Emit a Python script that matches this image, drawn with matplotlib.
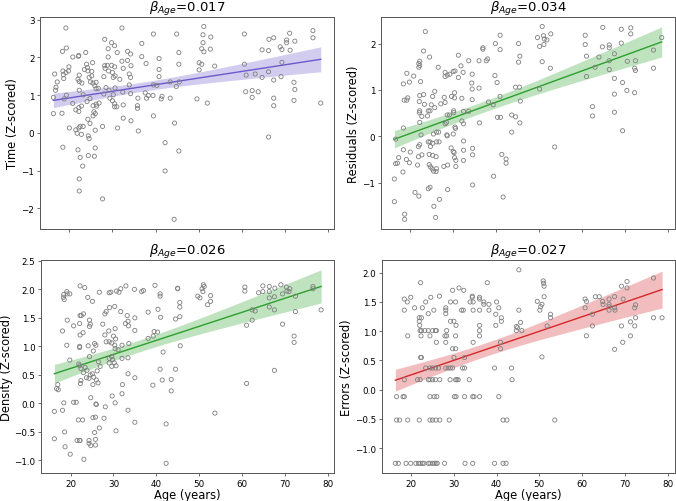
import matplotlib
matplotlib.use("Agg")
import matplotlib.pyplot as plt
import numpy as np

# ---- data (age in years, z-scored value) ----
time_age = [19.2, 32.2, 39.5, 44.9, 28.2, 29.8, 30.5, 36.8, 19.3, 18.4, 29.0, 23.8, 31.1, 33.5, 34.2, 45.4,
            20.8, 22.2, 22.1, 29.0, 36.8, 40.8, 33.5, 32.2, 24.0, 25.4, 37.8, 45.4, 28.2, 28.8, 29.8, 30.5,
            19.9, 23.5, 24.2, 28.3, 32.5, 34.3, 40.8, 18.5, 19.2, 19.8, 24.3, 25.2, 29.1, 30.0, 30.6, 33.9,
            16.6, 18.6, 22.3, 18.7, 22.0, 25.2, 24.6, 28.0, 30.2, 31.7, 34.2, 40.8, 17.2, 22.3, 22.9, 24.9,
            25.5, 26.2, 25.9, 33.9, 43.4, 45.5, 16.9, 28.5, 30.6, 39.5, 40.3, 44.8, 22.3, 26.2, 26.7, 29.2,
            16.8, 28.0, 30.2, 32.4, 34.2, 37.6, 19.3, 23.2, 38.3, 39.4, 41.5, 16.3, 18.8, 24.8, 29.4, 30.0,
            35.9, 37.9, 41.3, 43.4, 24.1, 20.8, 26.2, 26.9, 30.5, 32.5, 35.8, 22.8, 25.5, 26.3, 30.5, 31.0,
            35.8, 22.2, 21.5, 22.2, 25.7, 16.3, 18.3, 26.0, 25.5, 39.5, 32.5, 24.3, 34.3, 24.8, 44.4, 27.7,
            20.0, 22.5, 23.2, 31.2, 21.5, 22.2, 26.0, 36.0, 21.8, 22.8, 24.4, 24.6, 42.2, 18.5, 26.0, 22.0,
            45.4, 24.4, 25.8, 22.5, 23.1, 42.2, 22.3, 22.3, 27.7, 44.3,
            51.2, 51.0, 52.8, 51.0, 50.7, 51.2, 52.7, 50.1, 50.7, 50.1, 53.7, 49.6, 52.0, 60.6, 66.3, 67.4,
            71.1, 70.4, 70.4, 72.3, 76.5, 76.5, 64.7, 66.2, 68.9, 69.3, 71.2, 60.6, 69.3, 61.0, 63.1, 64.7,
            66.2, 67.4, 69.1, 72.1, 72.3, 60.9, 62.4, 63.8, 62.4, 67.4, 67.4, 72.1, 78.3, 66.2]
time_val = [2.78, 2.78, 2.62, 2.62, 2.48, 2.39, 2.31, 2.37, 2.25, 2.16, 2.23, 2.13, 2.13, 2.16, 2.09, 2.13,
            2.01, 2.05, 2.03, 2.01, 2.02, 1.97, 1.92, 1.90, 1.82, 1.86, 1.84, 1.82, 1.78, 1.79, 1.79, 1.75,
            1.75, 1.68, 1.73, 1.71, 1.71, 1.78, 1.68, 1.64, 1.60, 1.64, 1.64, 1.63, 1.64, 1.60, 1.51, 1.56,
            1.56, 1.54, 1.53, 1.44, 1.42, 1.51, 1.47, 1.49, 1.47, 1.42, 1.47, 1.49, 1.35, 1.36, 1.32, 1.35,
            1.32, 1.34, 1.25, 1.27, 1.35, 1.35, 1.21, 1.20, 1.19, 1.27, 1.26, 1.23, 1.13, 1.17, 1.18, 1.13,
            1.13, 1.03, 1.01, 1.08, 1.04, 1.06, 1.00, 1.01, 0.99, 0.99, 0.97, 0.94, 0.90, 0.91, 0.92, 0.85,
            0.92, 0.92, 0.90, 0.92, 0.83, 0.78, 0.76, 0.79, 0.77, 0.74, 0.72, 0.71, 0.72, 0.71, 0.69, 0.69,
            0.65, 0.67, 0.61, 0.57, 0.56, 0.51, 0.52, 0.51, 0.45, 0.45, 0.39, 0.36, 0.32, 0.25, 0.26, 0.17,
            0.13, 0.17, 0.17, 0.13, 0.08, 0.13, 0.07, 0.05, -0.01, -0.04, -0.08, -0.15, -0.26, -0.38, -0.40, -0.45,
            -0.48, -0.60, -0.62, -0.65, -0.88, -1.01, -1.22, -1.54, -1.75, -2.29,
            2.82, 2.60, 2.54, 2.39, 2.23, 2.15, 2.22, 1.86, 1.82, 1.67, 1.77, 0.90, 0.79, 2.62, 2.48, 2.52,
            2.64, 2.46, 2.39, 2.43, 2.71, 2.52, 2.20, 2.18, 2.28, 2.21, 2.19, 1.82, 1.87, 1.53, 1.56, 1.47,
            1.62, 1.40, 1.49, 1.34, 1.15, 1.09, 1.12, 1.09, 0.94, 0.92, 0.72, 0.86, 0.79, -0.11]

resid_age = [23.6, 41.0, 23.2, 39.9, 45.3, 41.0, 37.0, 37.0, 31.3, 45.6, 24.6, 22.3, 22.1, 22.3, 22.1, 33.7,
             36.1, 37.8, 38.1, 45.3, 26.6, 31.9, 19.3, 20.9, 28.2, 28.7, 29.3, 30.1, 30.5, 32.4, 31.3, 28.2,
             34.5, 39.8, 19.9, 18.5, 22.5, 34.4, 40.3, 34.5, 36.1, 25.8, 22.3, 23.2, 25.3, 30.4, 29.7, 28.0,
             30.4, 19.5, 18.7, 19.3, 32.1, 34.5, 41.0, 44.6, 45.5, 45.7, 22.2, 23.4, 25.0, 27.2, 28.2, 38.3,
             39.4, 22.3, 22.2, 24.3, 24.7, 25.8, 32.5, 30.2, 33.7, 30.2, 29.2, 22.8, 24.1, 28.7, 40.4, 41.1,
             43.7, 44.6, 32.1, 28.5, 22.3, 28.2, 32.5, 36.2, 45.6, 18.5, 30.5, 30.6, 26.2, 26.7, 25.5, 43.7,
             22.6, 28.6, 28.7, 30.1, 16.7, 24.3, 24.7, 26.2, 26.8, 32.5, 25.3, 24.8, 22.0, 22.3, 29.6, 32.5,
             34.6, 30.1, 18.5, 20.1, 30.3, 34.6, 22.8, 24.5, 25.3, 22.0, 26.1, 17.4, 41.4, 42.4, 30.4, 30.7,
             32.5, 19.2, 19.9, 16.7, 17.1, 21.8, 24.5, 42.4, 24.8, 25.2, 25.5, 26.1, 26.2, 27.9, 28.8, 30.7,
             18.4, 16.4, 39.5, 34.6, 21.2, 24.3, 24.7, 28.8, 22.1, 41.7, 26.9, 16.4, 25.6, 18.8, 18.8, 26.0,
             50.8, 49.7, 51.1, 51.3, 51.9, 52.8, 50.2, 51.2, 50.8, 52.7, 50.2, 53.7, 60.8, 60.8, 64.9, 69.2,
             71.4, 71.4, 78.6, 64.8, 66.4, 66.4, 69.2, 61.1, 64.0, 67.6, 66.4, 70.6, 72.5, 76.7, 63.1, 66.4,
             72.3, 72.5, 76.7, 61.1, 67.6, 69.5, 70.5, 72.3, 67.6, 62.5, 62.5, 67.6, 69.5]
resid_val = [2.26, 2.18, 1.84, 2.00, 2.00, 1.87, 1.91, 1.88, 1.75, 1.73, 1.71, 1.62, 1.57, 1.53, 1.49, 1.63,
             1.63, 1.63, 1.67, 1.60, 1.49, 1.52, 1.36, 1.30, 1.38, 1.32, 1.34, 1.40, 1.41, 1.38, 1.27, 1.29,
             1.34, 1.31, 1.17, 1.13, 1.18, 1.15, 1.16, 1.02, 1.04, 0.97, 0.88, 0.90, 0.86, 0.94, 0.86, 0.84,
             0.83, 0.83, 0.78, 0.78, 0.82, 0.79, 0.86, 1.06, 1.06, 0.76, 0.75, 0.69, 0.68, 0.70, 0.73, 0.74,
             0.68, 0.55, 0.51, 0.55, 0.55, 0.62, 0.54, 0.55, 0.54, 0.51, 0.46, 0.43, 0.44, 0.46, 0.41, 0.41,
             0.46, 0.42, 0.33, 0.30, 0.30, 0.27, 0.27, 0.29, 0.29, 0.18, 0.20, 0.17, 0.09, 0.09, 0.05, 0.09,
             0.03, 0.03, 0.01, 0.05, -0.06, -0.12, -0.12, -0.12, -0.12, -0.10, -0.15, -0.22, -0.22, -0.18, -0.25, -0.30,
             -0.26, -0.33, -0.29, -0.34, -0.35, -0.40, -0.40, -0.39, -0.41, -0.44, -0.44, -0.46, -0.39, -0.49, -0.46, -0.52,
             -0.52, -0.50, -0.57, -0.59, -0.58, -0.62, -0.61, -0.58, -0.66, -0.70, -0.75, -0.76, -0.70, -0.65, -0.62, -0.65,
             -0.77, -0.92, -0.86, -1.05, -1.21, -1.13, -1.10, -1.15, -1.29, -1.31, -1.36, -1.41, -1.51, -1.68, -1.79, -1.75,
             2.37, 2.13, 2.17, 2.10, 2.08, 2.21, 1.94, 1.98, 1.61, 1.47, 1.02, -0.23, 2.18, 1.98, 2.35, 2.31,
             2.34, 2.21, 2.13, 1.93, 1.97, 1.91, 2.01, 1.73, 1.71, 1.78, 1.63, 1.62, 1.63, 1.86, 1.49, 1.44,
             1.47, 1.42, 1.47, 1.29, 1.25, 1.16, 0.99, 0.94, 0.91, 0.64, 0.44, 0.52, 0.12]

dens_age = [22.2, 23.3, 26.7, 29.4, 29.0, 30.7, 31.7, 31.3, 32.9, 34.9, 37.0, 36.6, 39.7, 40.9, 40.9, 19.1,
            18.4, 19.2, 19.8, 18.3, 18.5, 24.0, 25.1, 45.0, 45.0, 45.5, 45.5, 29.1, 30.3, 28.3, 28.0, 31.7,
            38.1, 40.4, 23.0, 22.2, 22.5, 24.4, 19.2, 33.2, 35.0, 41.0, 45.5, 44.5, 33.4, 22.1, 24.6, 20.7,
            24.4, 27.5, 32.8, 33.5, 30.4, 18.1, 22.9, 28.9, 35.0, 39.5, 40.3, 22.2, 28.0, 30.0, 38.1, 39.3,
            30.5, 28.3, 29.0, 29.6, 30.3, 32.0, 33.6, 19.1, 24.1, 25.6, 25.9, 22.1, 45.6, 22.1, 30.4, 31.1,
            41.6, 25.3, 19.8, 29.6, 29.0, 29.8, 32.0, 33.4, 24.4, 26.5, 29.0, 30.2, 30.6, 29.6, 21.9, 22.1,
            26.9, 22.4, 23.4, 23.8, 26.2, 23.0, 25.1, 24.6, 33.4, 44.5, 40.9, 24.3, 23.7, 25.4, 35.0, 26.0,
            41.4, 43.5, 22.4, 22.3, 26.4, 25.2, 32.1, 17.0, 16.7, 17.1, 39.2, 43.5, 32.0, 29.7, 24.7, 30.4,
            18.4, 20.7, 21.3, 25.9, 26.0, 28.1, 16.2, 18.1, 33.4, 27.8, 25.2, 25.8, 21.8, 22.8, 35.0, 42.3,
            26.7, 30.6, 18.6, 25.6, 16.2, 21.5, 22.1, 22.2, 24.3, 25.8, 24.3, 24.7, 25.8, 18.7, 19.9, 23.1,
            42.3,
            51.0, 51.2, 50.7, 49.7, 50.2, 50.9, 52.7, 52.0, 52.7, 53.7, 60.7, 60.7, 64.9, 66.4, 67.7, 69.1,
            70.4, 71.2, 76.6, 76.6, 63.9, 64.9, 66.4, 70.5, 71.0, 69.5, 67.6, 66.4, 72.5, 62.4, 63.1, 66.4,
            67.6, 72.5, 78.5, 61.1, 62.4, 69.5, 72.2, 72.2, 67.6, 61.1]
dens_val = [2.06, 2.03, 1.95, 1.95, 1.94, 1.97, 2.01, 1.95, 2.06, 2.00, 1.98, 1.96, 2.07, 1.92, 1.88, 1.96,
            1.91, 1.92, 1.92, 1.86, 1.82, 1.86, 1.79, 2.02, 2.01, 1.77, 1.69, 1.68, 1.70, 1.61, 1.57, 1.61,
            1.60, 1.65, 1.57, 1.54, 1.54, 1.46, 1.46, 1.54, 1.50, 1.51, 1.52, 1.48, 1.44, 1.40, 1.39, 1.36,
            1.35, 1.39, 1.40, 1.36, 1.31, 1.27, 1.24, 1.27, 1.28, 1.26, 1.25, 1.20, 1.20, 1.18, 1.14, 1.18,
            1.13, 1.08, 1.08, 1.06, 1.02, 1.02, 1.05, 1.02, 1.01, 1.05, 1.02, 1.00, 1.01, 0.98, 0.96, 0.94,
            0.90, 0.92, 0.76, 0.82, 0.79, 0.77, 0.79, 0.80, 0.82, 0.73, 0.71, 0.71, 0.66, 0.65, 0.69, 0.66,
            0.65, 0.61, 0.63, 0.58, 0.57, 0.54, 0.52, 0.50, 0.52, 0.60, 0.60, 0.44, 0.45, 0.46, 0.45, 0.41,
            0.41, 0.42, 0.40, 0.35, 0.36, 0.33, 0.33, 0.33, 0.26, 0.24, 0.32, 0.22, 0.17, 0.13, 0.10, 0.01,
            0.01, 0.02, 0.02, -0.01, -0.02, -0.06, -0.14, -0.12, -0.12, -0.26, -0.25, -0.24, -0.29, -0.29, -0.33, -0.36,
            -0.43, -0.48, -0.50, -0.51, -0.62, -0.65, -0.65, -0.65, -0.65, -0.63, -0.70, -0.74, -0.73, -0.76, -0.89, -0.98,
            -1.05,
            2.08, 2.05, 2.01, 1.88, 1.85, 1.96, 1.89, 1.73, 1.79, -0.17, 2.04, 1.97, 2.06, 2.05, 2.02, 2.08,
            2.04, 2.01, 2.05, 2.01, 1.94, 1.96, 1.96, 1.97, 1.96, 1.92, 1.87, 1.85, 1.88, 1.64, 1.62, 1.69,
            1.64, 1.61, 1.64, 1.37, 1.46, 1.39, 1.18, 1.07, 0.58, 0.35]

err_age = [16.3, 17.0, 18.8, 19.9, 21.1, 21.7, 22.1, 22.6, 23.0, 24.0, 24.4, 25.0, 25.4, 25.8, 26.1, 27.8,
           32.6, 34.4, 39.5, 41.5, 42.2,
           16.6, 17.3, 19.2, 21.9, 24.4, 25.0, 25.8, 26.7, 28.9, 41.5, 42.4,
           16.6, 18.1, 18.4, 24.4, 25.4, 26.0, 30.1, 30.5, 32.5, 34.4, 34.7, 36.0, 40.5,
           18.4, 21.5, 22.1, 24.0, 24.4, 25.0, 25.7, 26.7, 29.1, 30.4, 30.7, 31.0, 33.6, 43.6,
           23.4, 24.4, 25.0, 25.7, 26.4, 28.1, 28.7, 29.2, 29.7, 32.0, 32.5, 39.5, 43.5,
           22.2, 22.4, 30.0, 32.5, 29.7, 30.4, 40.9, 25.9, 28.1, 34.5, 40.9,
           19.2, 22.3, 24.4, 27.9, 28.3, 30.4, 36.0,
           22.1, 22.4, 23.2, 24.0, 25.0, 25.7, 25.9, 28.3, 36.0, 44.6, 45.9,
           22.0, 30.5, 36.0, 39.8, 44.9, 44.6, 45.6, 21.9, 29.2, 30.0, 41.1, 21.9, 22.4, 41.1,
           18.4, 25.3, 28.1, 31.8, 32.2, 34.5, 36.0, 38.2, 45.2, 20.8, 22.6, 28.1, 40.5, 24.0, 28.1, 39.8,
           19.1, 23.4, 29.2, 30.4, 33.8, 34.5, 37.0, 40.0, 37.0, 38.2,
           18.4, 36.0, 19.9, 24.6, 34.3, 36.0, 26.6, 34.3,
           29.7, 32.3, 31.2, 22.2, 37.8, 45.2,
           50.9, 51.0, 51.1, 51.1, 49.5, 50.6, 50.3, 50.1, 52.6, 52.6, 51.8, 50.6, 53.6, 60.7, 61.0, 60.7,
           63.1, 64.0, 64.8, 64.9, 66.3, 66.3, 66.3, 66.3, 67.6, 67.6, 67.7, 69.2, 70.5, 70.5, 69.6, 72.5,
           72.3, 76.7, 62.4, 62.4, 61.0, 69.2, 71.3, 72.5, 72.3, 71.3, 76.7, 78.7, 67.6, 69.5]
err_val = [-1.26] * 21 + [-0.52] * 11 + [-0.12] * 13 + [0.17] * 14 + [0.37] * 13 + \
          [0.55, 0.55, 0.55, 0.55, 0.70, 0.70, 0.70, 0.81, 0.81, 0.81, 0.81] + [0.92] * 7 + [1.01] * 11 + \
          [1.10, 1.10, 1.10, 1.10, 1.06, 1.08, 1.15, 1.17, 1.17, 1.17, 1.17, 1.23, 1.23, 1.23] + \
          [1.36] * 9 + [1.40, 1.40, 1.40, 1.40, 1.30, 1.30, 1.29] + \
          [1.50] * 8 + [1.46, 1.46] + [1.55, 1.55, 1.58, 1.58, 1.58, 1.58, 1.60, 1.60] + \
          [1.70, 1.70, 1.74, 1.83, 1.83, 2.05] + \
          [1.86, 1.82, 1.77, 1.59, 1.51, 1.46, 1.42, 1.36, 1.29, 1.23, 1.09, 0.56, -0.52, 1.55, 1.51, 1.40,
           1.59, 1.59, 1.51, 1.46, 1.55, 1.46, 1.42, 1.36, 1.59, 1.40, 1.36, 1.77, 1.85, 1.74, 1.55, 1.45,
           1.40, 1.91, 1.29, 1.09, 0.92, 1.09, 1.16, 1.23, 1.09, 0.92, 1.23, 1.23, 0.69, 0.81]

betas = ["0.017", "0.034", "0.026", "0.027"]
ylabels = ["Time (Z-scored)", "Residuals (Z-scored)", "Density (Z-scored)", "Errors (Z-scored)"]
colors = ["#6a5acd", "#2ca02c", "#2ca02c", "#d62728"]


def reg_with_ci(ax, x, y, color):
    """Scatter + OLS line + analytic 95% confidence band (like regplot)."""
    x = np.asarray(x, float)
    y = np.asarray(y, float)
    ax.scatter(x, y, s=9, facecolors="none", edgecolors="#7f7f7f", linewidths=0.6, zorder=3)
    slope, icpt = np.polyfit(x, y, 1)
    xs = np.linspace(x.min(), x.max(), 100)
    fit = icpt + slope * xs
    n = len(x)
    resid = y - (icpt + slope * x)
    s = np.sqrt(np.sum(resid ** 2) / (n - 2))
    se = s * np.sqrt(1.0 / n + (xs - x.mean()) ** 2 / np.sum((x - x.mean()) ** 2))
    t = 1.972
    ax.fill_between(xs, fit - t * se, fit + t * se, color=color, alpha=0.3, lw=0, zorder=1)
    ax.plot(xs, fit, color=color, lw=1.0, zorder=2)


fig = plt.figure(figsize=(6.76, 5.02), dpi=100)
rects = [[0.0592, 0.542, 0.435, 0.4225],
         [0.5636, 0.542, 0.435, 0.4225],
         [0.0607, 0.0558, 0.434, 0.424],
         [0.5651, 0.0558, 0.434, 0.424]]
label_x = [-0.073, -0.071, -0.097, -0.100]
data = [(time_age, time_val), (resid_age, resid_val), (dens_age, dens_val), (err_age, err_val)]

for i, (rect, (xa, ya)) in enumerate(zip(rects, data)):
    ax = fig.add_axes(rect)
    reg_with_ci(ax, xa, ya, colors[i])
    ax.set_title(r"$\beta_{Age}$=" + betas[i], fontsize=9.5, pad=1)
    ax.set_ylabel(ylabels[i], fontsize=8.3)
    ax.yaxis.set_label_coords(label_x[i], 0.5)
    ax.set_xticks([20, 30, 40, 50, 60, 70, 80])
    ax.tick_params(labelsize=6.3, length=2.5, width=0.6, color="#555555", pad=1.5)
    for sp in ax.spines.values():
        sp.set_color("#555555")
        sp.set_linewidth(0.7)
    if i < 2:
        ax.tick_params(labelbottom=False)
    else:
        ax.set_xlabel("Age (years)", fontsize=8.3, labelpad=0)

fig.savefig("out.png", dpi=100)
